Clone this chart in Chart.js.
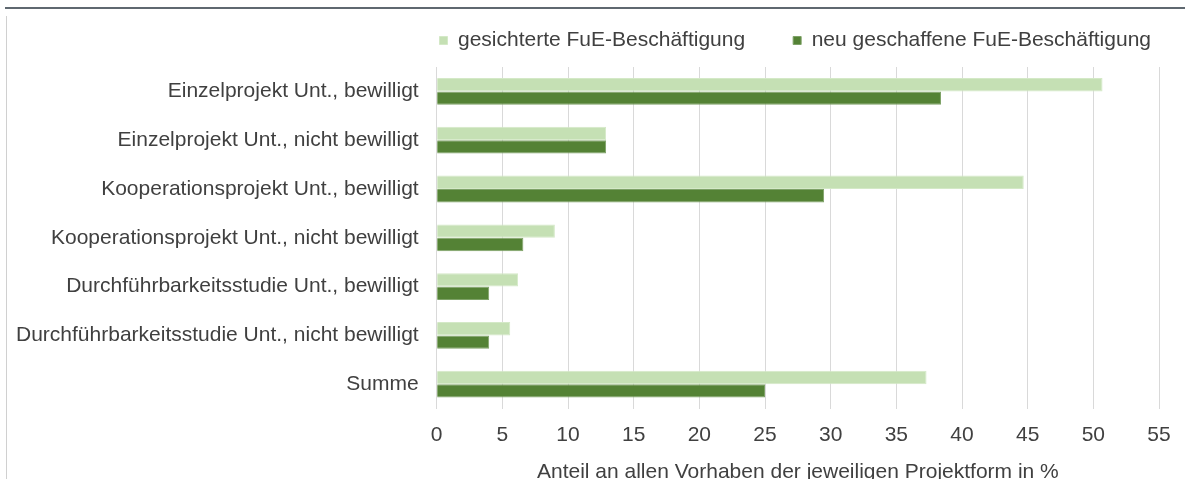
<!DOCTYPE html>
<html>
<head>
<meta charset="utf-8">
<script src="https://cdn.jsdelivr.net/npm/chart.js@4"></script>
<style>
  html, body { margin: 0; padding: 0; background: #fff; overflow: hidden; width: 1185px; height: 479px; }
  #wrap { position: absolute; left: -2px; top: -18px; width: 1222px; height: 507px; }
  #topLine { position: absolute; left: 5px; top: 7px; width: 1180px; height: 2px; background: #5f6870; }
  #leftLine { position: absolute; left: 6px; top: 16px; width: 1px; height: 463px; background: #d0d0d0; }
</style>
</head>
<body>
<div id="wrap"><canvas id="chart"></canvas></div>
<div id="topLine"></div>
<div id="leftLine"></div>
<script>
// Kategorien (Projektform)
const categories = [
    'Einzelprojekt Unt., bewilligt',
    'Einzelprojekt Unt., nicht bewilligt',
    'Kooperationsprojekt Unt., bewilligt',
    'Kooperationsprojekt Unt., nicht bewilligt',
    'Durchführbarkeitsstudie Unt., bewilligt',
    'Durchführbarkeitsstudie Unt., nicht bewilligt',
    'Summe'
];

// Anteile in %
const gesichert = [50.7, 12.9, 44.7, 9.0, 6.2, 5.6, 37.3];
const neuGeschaffen = [38.4, 12.9, 29.5, 6.6, 4.0, 4.0, 25.0];

const seriesLabels = ['gesichterte FuE-Beschäftigung', 'neu geschaffene FuE-Beschäftigung'];
const axisTitle = 'Anteil an allen Vorhaben der jeweiligen Projektform in %';

const fontFamily = '"Liberation Sans", Arial, sans-serif';
const textColor = '#404040';

// a bit more room between legend and plot
const legendSpacing = {
    id: 'legendSpacing',
    beforeInit(chart) {
        const origFit = chart.legend.fit;
        chart.legend.fit = function () {
            origFit.bind(chart.legend)();
            this.height += 6;
        };
    }
};

const ctx = document.getElementById('chart').getContext('2d');
new Chart(ctx, {
    type: 'bar',
    data: {
        labels: categories,
        datasets: [
            {
                label: seriesLabels[0],
                data: gesichert,
                backgroundColor: '#c5e0b4',
                borderColor: '#d4e9c7',
                borderWidth: 1,
                categoryPercentage: 0.55,
                barPercentage: 1.0
            },
            {
                label: seriesLabels[1],
                data: neuGeschaffen,
                backgroundColor: '#548235',
                borderColor: '#7ea267',
                borderWidth: 1,
                categoryPercentage: 0.55,
                barPercentage: 1.0
            }
        ]
    },
    plugins: [legendSpacing],
    options: {
        indexAxis: 'y',
        responsive: true,
        maintainAspectRatio: false,
        animation: false,
        layout: { padding: { left: 0, right: 21, top: 0, bottom: 0 } },
        plugins: {
            tooltip: { enabled: false },
            legend: {
                position: 'top',
                align: 'end',
                labels: {
                    font: { family: fontFamily, size: 21 },
                    color: textColor,
                    boxWidth: 8,
                    boxHeight: 8,
                    padding: 48
                }
            }
        },
        scales: {
            x: {
                min: 0,
                max: 55,
                afterFit(scale) {
                    scale.paddingRight = 61;
                },
                ticks: {
                    stepSize: 5,
                    padding: 14,
                    color: textColor,
                    font: { family: fontFamily, size: 21 }
                },
                grid: { color: '#d9d9d9', drawTicks: false },
                border: { display: false },
                title: {
                    display: true,
                    text: axisTitle,
                    color: textColor,
                    font: { family: fontFamily, size: 21 },
                    padding: { top: -2, bottom: 4 }
                }
            },
            y: {
                ticks: {
                    padding: 18,
                    color: textColor,
                    font: { family: fontFamily, size: 21 }
                },
                grid: { display: false, drawTicks: false },
                border: { display: true, color: '#d9d9d9' }
            }
        }
    }
});
</script>
</body>
</html>
